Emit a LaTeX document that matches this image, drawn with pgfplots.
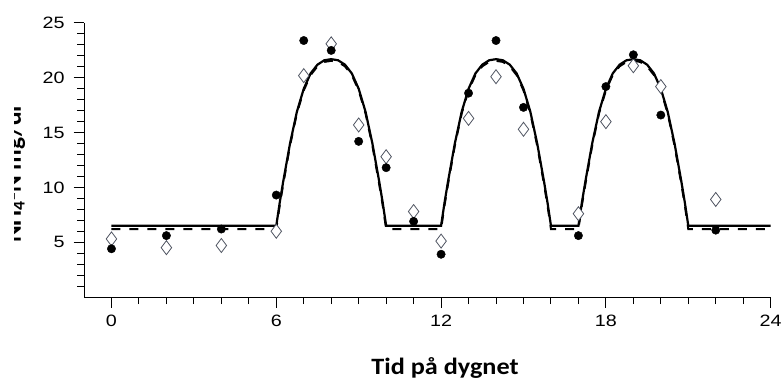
\documentclass[border=0pt]{standalone}
\usepackage{fontspec}
\setmainfont{Liberation Sans}
\newfontfamily\calibri{Carlito}
\usepackage{pgfplots}
\usepackage{pgfplotstable}
\pgfplotsset{compat=1.18}
\definecolor{dia}{RGB}{80,85,98}

\pgfplotstableread{
t c d
0 4.4 5.3
2 5.6 4.5
4 6.2 4.7
6 9.3 6.0
7 23.4 20.2
8 22.5 23.1
9 14.2 15.7
10 11.8 12.8
11 6.9 7.8
12 3.9 5.1
13 18.6 16.3
14 23.4 20.1
15 17.3 15.3
17 5.6 7.6
18 19.2 16.0
19 22.1 21.1
20 16.6 19.2
22 6.1 8.9
}\points

\begin{document}
\begin{tikzpicture}
\useasboundingbox (-84bp,-84bp) rectangle (699bp,297bp);
\begin{axis}[
  at={(0,0)}, anchor=south west,
  scale only axis, width=686.7bp, height=274bp,
  xmin=-1, xmax=24, ymin=0, ymax=25,
  axis x line*=bottom, axis y line*=left,
  axis line style={-, line width=1bp, black},
  xtick={0,6,12,18,24}, ytick={5,10,15,20,25},
  minor xtick={1,...,23}, minor ytick={1,...,24},
  tick align=outside,
  major tick length=10.5bp, minor tick length=7bp,
  every tick/.style={black, line width=1bp},
  tick label style={font=\fontsize{16.5}{19}\selectfont, xscale=1.2},
  yticklabel style={xshift=-4bp},
  xticklabel style={yshift=-4bp},
  /pgf/number format/assume math mode=true,
  clip=false,
]
\addplot[black, line width=2.2bp, sharp plot] coordinates {
(0,6.5) (6,6.5) (6.125,8.6) (6.25,10.5) (6.5,14.0) (6.75,16.9) (7,19.0) (7.25,20.4) (7.5,21.2) (7.75,21.6) (8,21.7)
(8.25,21.6) (8.5,21.2) (8.75,20.4) (9,19.0) (9.25,16.9) (9.5,14.0) (9.75,10.5) (9.875,8.6) (10,6.5)
(12,6.5) (12.125,8.6) (12.25,10.5) (12.5,14.0) (12.75,16.9) (13,19.0) (13.25,20.4) (13.5,21.2) (13.75,21.6) (14,21.7)
(14.25,21.6) (14.5,21.2) (14.75,20.4) (15,19.0) (15.25,16.9) (15.5,14.0) (15.75,10.5) (15.875,8.6) (16,6.5)
(17,6.5) (17.125,8.6) (17.25,10.5) (17.5,14.0) (17.75,16.9) (18,19.0) (18.25,20.4) (18.5,21.2) (18.75,21.6) (19,21.7)
(19.25,21.6) (19.5,21.2) (19.75,20.4) (20,19.0) (20.25,16.9) (20.5,14.0) (20.75,10.5) (20.875,8.6) (21,6.5)
(24,6.5)
};
\addplot[black, line width=2bp, sharp plot, dash pattern=on 9bp off 9bp] coordinates {
(0,6.2) (6,6.2) (6.125,8.35) (6.25,10.25) (6.5,13.8) (6.75,16.75) (7,18.85) (7.25,20.25) (7.5,21.05) (7.75,21.45) (8,21.55)
(8.25,21.45) (8.5,21.05) (8.75,20.25) (9,18.85) (9.25,16.75) (9.5,13.8) (9.75,10.25) (9.875,8.35) (10,6.2)
(12,6.2) (12.125,8.35) (12.25,10.25) (12.5,13.8) (12.75,16.75) (13,18.85) (13.25,20.25) (13.5,21.05) (13.75,21.45) (14,21.55)
(14.25,21.45) (14.5,21.05) (14.75,20.25) (15,18.85) (15.25,16.75) (15.5,13.8) (15.75,10.25) (15.875,8.35) (16,6.2)
(17,6.2) (17.125,8.35) (17.25,10.25) (17.5,13.8) (17.75,16.75) (18,18.85) (18.25,20.25) (18.5,21.05) (18.75,21.45) (19,21.55)
(19.25,21.45) (19.5,21.05) (19.75,20.25) (20,18.85) (20.25,16.75) (20.5,13.8) (20.75,10.25) (20.875,8.35) (21,6.2)
(24,6.2)
};
\addplot[only marks, mark=diamond*, mark size=7bp, mark options={draw=dia, fill=white, line width=0.8bp}] table[x=t, y=d] {\points};
\addplot[only marks, mark=*, mark size=4.2bp, mark options={draw=black, fill=black}] table[x=t, y=c] {\points};
\end{axis}
\begin{scope}
\clip (-69bp,0bp) rectangle (-40bp,297bp);
\node[rotate=90, anchor=base, font=\calibri\bfseries\fontsize{25.5}{30}\selectfont] at (-63bp,122.5bp) {NH\textsubscript{4}-N mg/dl};
\end{scope}
\node[anchor=base, xscale=1.12, font=\calibri\bfseries\fontsize{23.5}{28}\selectfont] at (361bp,-77bp) {Tid på dygnet};
\end{tikzpicture}
\end{document}
